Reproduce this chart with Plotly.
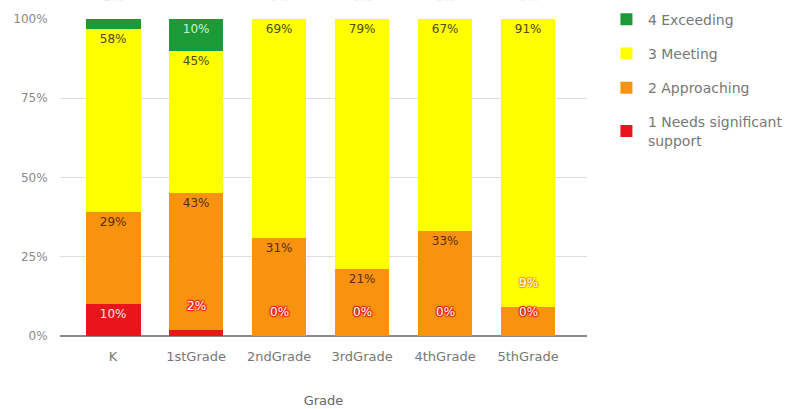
import plotly.graph_objects as go

grades = ["K", "1stGrade", "2ndGrade", "3rdGrade", "4thGrade", "5thGrade"]
needs_support = [10, 2, 0, 0, 0, 0]
approaching = [29, 43, 31, 21, 33, 9]
meeting = [58, 45, 69, 79, 67, 91]
exceeding = [3, 10, 0, 0, 0, 0]

series_names = ["1 Needs significant<br>support", "2 Approaching", "3 Meeting", "4 Exceeding"]
series_values = [needs_support, approaching, meeting, exceeding]
series_colors = ["#e8161b", "#f7930f", "#ffff00", "#1d9a38"]
inside_text_colors = ["#ffe4e4", "#5a2c00", "#4e4a00", "#cdf2cd"]
legend_ranks = [4, 3, 2, 1]

SMALL = 10
FONT = "DejaVu Sans"

fig = go.Figure()
for name, vals, col, tcol, rank in zip(series_names, series_values, series_colors,
                                       inside_text_colors, legend_ranks):
    texts = [f"{v}%" if v >= SMALL else "" for v in vals]
    fig.add_trace(go.Bar(
        x=grades, y=vals, name=name, marker_color=col, marker_line_width=0,
        text=texts, textposition="inside", insidetextanchor="end",
        textfont=dict(color=tcol, size=12, family=FONT),
        legendgroup=name, legendrank=rank, hoverinfo="skip", constraintext="none",
    ))

# labels for small segments, drawn above the segment top
annotations = []
for vals_idx, (vals, col) in enumerate(zip(series_values, series_colors)):
    for i, g in enumerate(grades):
        v = vals[i]
        if v < SMALL:
            top = sum(series_values[k][i] for k in range(vals_idx + 1))
            sh = ", ".join(f"{dx}px {dy}px 1px {col}" for dx, dy in [(1, 1), (-1, -1), (1, -1), (-1, 1)])
            annotations.append(dict(
                x=g, y=top, xref="x", yref="y", text=f"{v}%", showarrow=False,
                yanchor="middle", yshift=24,
                font=dict(color="white", size=12, family=FONT, shadow=sh),
            ))

fig.update_layout(
    barmode="stack",
    bargap=0.34,
    width=799, height=409,
    margin=dict(l=60, r=212, t=19, b=73, autoexpand=False),
    paper_bgcolor="white", plot_bgcolor="white",
    font=dict(family=FONT, color="#777", size=13),
    annotations=annotations,
    legend=dict(
        x=1.034, y=0.991, yref="container", xanchor="left", yanchor="top",
        traceorder="grouped", tracegroupgap=13,
        font=dict(size=14, color="#777", family=FONT), itemwidth=33,
    ),
    xaxis=dict(
        range=[-0.64, 5.71], showgrid=False, showline=False, automargin=False,
        ticks="outside", ticklen=8, tickcolor="rgba(0,0,0,0)",
        tickfont=dict(size=13, color="#777"),
        title=dict(text="Grade", font=dict(size=13, color="#666"), standoff=33),
    ),
    yaxis=dict(
        range=[0, 100], dtick=25, ticksuffix="%", automargin=False,
        gridcolor="#dddddd", gridwidth=1,
        zeroline=True, zerolinecolor="#8a8a8a", zerolinewidth=2,
        ticks="outside", ticklen=9, tickcolor="rgba(0,0,0,0)",
        tickfont=dict(size=12, color="#888"),
    ),
)

fig.write_html("out.html")
